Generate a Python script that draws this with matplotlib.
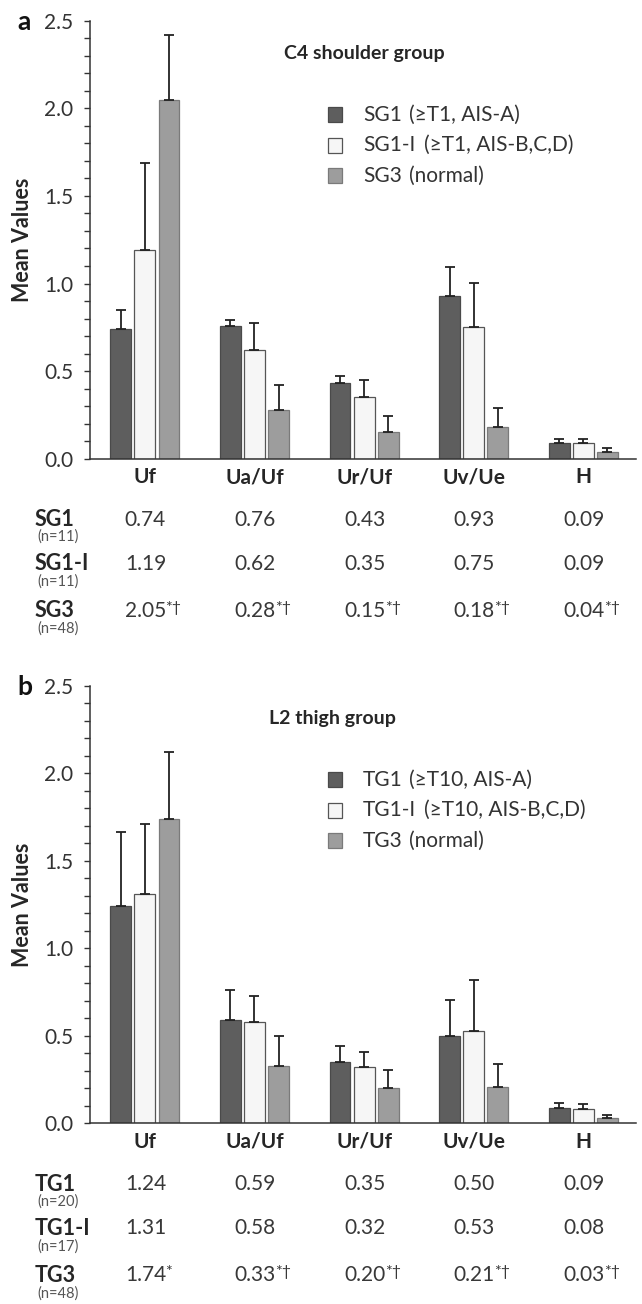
import matplotlib
matplotlib.use("Agg")
import matplotlib.pyplot as plt
from matplotlib.patches import Rectangle
import numpy as np

plt.rcParams['font.family'] = ['Lato', 'DejaVu Sans']

# ---------------- data ----------------
categories = ["Uf", "Ua/Uf", "Ur/Uf", "Uv/Ue", "H"]

# panel a (C4 shoulder group)
a_groups = ["SG1", "SG1-I", "SG3"]
a_n = ["(n=11)", "(n=11)", "(n=48)"]
a_legend_desc = ["(\u2265T1, AIS-A)", "(\u2265T1, AIS-B,C,D)", "(normal)"]
sg1_mean = [0.74, 0.76, 0.43, 0.93, 0.09]
sg1_sd = [0.11, 0.03, 0.04, 0.165, 0.024]
sg1i_mean = [1.19, 0.62, 0.35, 0.75, 0.09]
sg1i_sd = [0.50, 0.157, 0.097, 0.253, 0.02]
sg3_mean = [2.05, 0.28, 0.15, 0.18, 0.04]
sg3_sd = [0.37, 0.143, 0.092, 0.108, 0.02]
a_marks = [["", "", "", "", ""],
           ["", "", "", "", ""],
           ["*\u2020", "*\u2020", "*\u2020", "*\u2020", "*\u2020"]]

# panel b (L2 thigh group)
b_groups = ["TG1", "TG1-I", "TG3"]
b_n = ["(n=20)", "(n=17)", "(n=48)"]
b_legend_desc = ["(\u2265T10, AIS-A)", "(\u2265T10, AIS-B,C,D)", "(normal)"]
tg1_mean = [1.24, 0.59, 0.35, 0.50, 0.09]
tg1_sd = [0.425, 0.174, 0.094, 0.207, 0.024]
tg1i_mean = [1.31, 0.58, 0.32, 0.53, 0.08]
tg1i_sd = [0.40, 0.148, 0.088, 0.289, 0.03]
tg3_mean = [1.74, 0.33, 0.20, 0.21, 0.03]
tg3_sd = [0.38, 0.17, 0.105, 0.13, 0.016]
b_marks = [["", "", "", "", ""],
           ["", "", "", "", ""],
           ["*", "*\u2020", "*\u2020", "*\u2020", "*\u2020"]]

yticks = [0.0, 0.5, 1.0, 1.5, 2.0, 2.5]
ytick_labels = ["0.0", "0.5", "1.0", "1.5", "2.0", "2.5"]

# ---------------- styling ----------------
W, H = 642, 1304
face = ["#5e5e5e", "#f6f6f6", "#9d9d9d"]
edge = ["#4a4a4a", "#555555", "#7a7a7a"]
txt = "#262626"
numc = "#383838"

fig = plt.figure(figsize=(W / 100, H / 100), dpi=100)

def axes_rect(top_px, bottom_px, left_px=90, right_px=636):
    return [left_px / W, 1 - bottom_px / H, (right_px - left_px) / W, (bottom_px - top_px) / H]

panels = [
    dict(top=20.7, rect=axes_rect(20.7, 458.7), letter="a", title="C4 shoulder group", title_x=364,
         groups=a_groups, n=a_n, desc=a_legend_desc,
         means=[sg1_mean, sg1i_mean, sg3_mean], sds=[sg1_sd, sg1i_sd, sg3_sd], marks=a_marks),
    dict(top=685.7, rect=axes_rect(685.7, 1123.3), letter="b", title="L2 thigh group", title_x=332,
         groups=b_groups, n=b_n, desc=b_legend_desc,
         means=[tg1_mean, tg1i_mean, tg3_mean], sds=[tg1_sd, tg1i_sd, tg3_sd], marks=b_marks),
]

x = np.arange(len(categories))
step = 0.22
width = 0.19

for p in panels:
    ax = fig.add_axes(p["rect"])
    ax_h_px = p["rect"][3] * H
    ax_w_px = p["rect"][2] * W
    for k in range(3):
        xs = x + (k - 1) * step
        ax.bar(xs, p["means"][k], width=width, color=face[k], edgecolor=edge[k],
               linewidth=0.9, zorder=2)
        ax.errorbar(xs, p["means"][k], yerr=[np.zeros(len(x)), p["sds"][k]], fmt="none",
                    ecolor="#222222", elinewidth=1.3, capsize=3.8, capthick=1.3, zorder=3)
    ax.set_xlim(-0.5, 4.48)
    ax.set_ylim(0, 2.5)
    ax.set_yticks(yticks)
    ax.set_yticklabels(ytick_labels, fontsize=15, color="#333333")
    ax.set_yticks(np.arange(0, 2.5001, 0.1), minor=True)
    ax.tick_params(axis="y", which="both", direction="out", length=4, width=1.0,
                   color="#333333", pad=8)
    ax.set_xticks(x)
    ax.set_xticklabels(categories, fontsize=15, fontweight="bold", color=txt)
    ax.tick_params(axis="x", length=0, pad=6)
    for s in ["top", "right"]:
        ax.spines[s].set_visible(False)
    for s in ["left", "bottom"]:
        ax.spines[s].set_color("#333333")
        ax.spines[s].set_linewidth(1.1)
    ax.set_ylabel("Mean Values", fontsize=15.5, fontweight="bold", color=txt)
    ax.yaxis.set_label_coords((33 - 90) / ax_w_px, 0.5)

    # panel letter
    fig.text(17 / W, 1 - (p["top"] + 1) / H, p["letter"], fontsize=19, fontweight="bold",
             color="#111111", ha="left", va="center")

    # subtitle
    ax.text((p["title_x"] - 90) / ax_w_px, 1 - 33 / ax_h_px, p["title"], transform=ax.transAxes,
            fontsize=14, fontweight="bold", color=txt, ha="center", va="center")

    # legend (manual)
    name_x = (363 - 90) / ax_w_px
    sq_x = (328 - 90) / ax_w_px
    paren_px = [409, 424, 409]
    for k in range(3):
        yy = 1 - (94 + 30.5 * k) / ax_h_px
        ax.add_patch(Rectangle((sq_x, yy - 7.5 / ax_h_px), 14 / ax_w_px, 15 / ax_h_px,
                               transform=ax.transAxes, facecolor=face[k], edgecolor=edge[k],
                               linewidth=0.9, clip_on=False))
        ax.text(name_x, yy, p["groups"][k], transform=ax.transAxes, fontsize=15,
                color="#333333", ha="left", va="center")
        ax.text((paren_px[k] - 90) / ax_w_px, yy, p["desc"][k], transform=ax.transAxes,
                fontsize=15, color="#333333", ha="left", va="center",
                family=["Lato", "DejaVu Sans"])

    # value table below the axis
    row_off = [61, 105, 152]
    n_off = [78, 123, 170]
    for k in range(3):
        ya = -row_off[k] / ax_h_px
        ax.text((35 - 90) / ax_w_px, ya, p["groups"][k], transform=ax.transAxes,
                fontsize=15.5, fontweight="bold", color=txt, ha="left", va="center")
        ax.text((37 - 90) / ax_w_px, -n_off[k] / ax_h_px, p["n"][k], transform=ax.transAxes,
                fontsize=10.5, color="#555555", ha="left", va="center")
        trans = ax.get_xaxis_transform()
        for i in range(len(categories)):
            t = ax.text(x[i] - 20 / 109.5, ya, f"{p['means'][k][i]:.2f}", transform=trans,
                        fontsize=15, color=numc, ha="left", va="center", clip_on=False)
            if p["marks"][k][i]:
                ax.annotate(p["marks"][k][i], xy=(1.0, 1.0), xycoords=t,
                            xytext=(-0.5, 0), textcoords="offset points",
                            fontsize=11.5, color=numc, ha="left", va="top")

fig.savefig("out.png", dpi=100)
